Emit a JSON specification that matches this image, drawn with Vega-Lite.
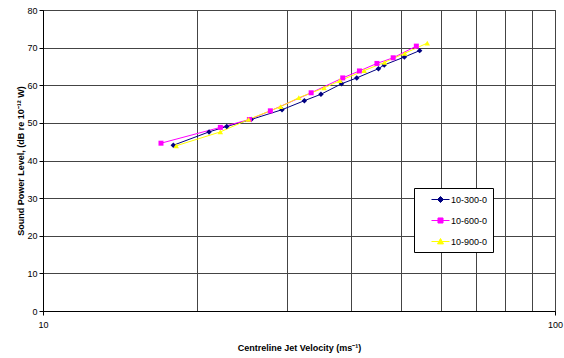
{
  "$schema": "https://vega.github.io/schema/vega-lite/v6.json",
  "width": 512,
  "height": 301,
  "autosize": {"type": "none"},
  "padding": {"left": 43, "top": 10, "right": 9, "bottom": 47},
  "background": "white",
  "config": {
    "font": "Liberation Sans",
    "view": {"stroke": "#444"},
    "axis": {
      "labelFont": "Liberation Sans",
      "labelFontSize": 9,
      "labelColor": "black",
      "titleFont": "Liberation Sans",
      "titleFontSize": 9,
      "titleFontWeight": "bold",
      "titleColor": "black",
      "gridColor": "#444",
      "gridOpacity": 1,
      "gridWidth": 1,
      "domainColor": "black",
      "tickColor": "black",
      "tickSize": 4
    }
  },
  "data": {
    "values": [
      {"series": "10-300-0", "v": 17.97, "L": 44.05},
      {"series": "10-300-0", "v": 21.1, "L": 47.6},
      {"series": "10-300-0", "v": 22.85, "L": 49.05},
      {"series": "10-300-0", "v": 25.5, "L": 50.9},
      {"series": "10-300-0", "v": 29.3, "L": 53.5},
      {"series": "10-300-0", "v": 32.4, "L": 55.9},
      {"series": "10-300-0", "v": 34.9, "L": 57.6},
      {"series": "10-300-0", "v": 38.3, "L": 60.4},
      {"series": "10-300-0", "v": 41.0, "L": 61.95},
      {"series": "10-300-0", "v": 45.2, "L": 64.4},
      {"series": "10-300-0", "v": 46.4, "L": 65.4},
      {"series": "10-300-0", "v": 50.8, "L": 67.5},
      {"series": "10-300-0", "v": 54.4, "L": 69.2},
      {"series": "10-600-0", "v": 17.0, "L": 44.6},
      {"series": "10-600-0", "v": 22.2, "L": 48.8},
      {"series": "10-600-0", "v": 25.3, "L": 50.9},
      {"series": "10-600-0", "v": 27.8, "L": 53.2},
      {"series": "10-600-0", "v": 33.4, "L": 58.0},
      {"series": "10-600-0", "v": 38.5, "L": 61.95},
      {"series": "10-600-0", "v": 41.5, "L": 63.8},
      {"series": "10-600-0", "v": 44.9, "L": 65.8},
      {"series": "10-600-0", "v": 48.3, "L": 67.3},
      {"series": "10-600-0", "v": 53.6, "L": 70.4},
      {"series": "10-900-0", "v": 18.2, "L": 43.9},
      {"series": "10-900-0", "v": 22.2, "L": 47.6},
      {"series": "10-900-0", "v": 25.2, "L": 50.9},
      {"series": "10-900-0", "v": 29.1, "L": 54.3},
      {"series": "10-900-0", "v": 31.6, "L": 56.7},
      {"series": "10-900-0", "v": 35.4, "L": 59.3},
      {"series": "10-900-0", "v": 38.0, "L": 61.2},
      {"series": "10-900-0", "v": 42.4, "L": 63.9},
      {"series": "10-900-0", "v": 46.5, "L": 66.1},
      {"series": "10-900-0", "v": 50.9, "L": 68.5},
      {"series": "10-900-0", "v": 56.3, "L": 71.2}
    ]
  },
  "encoding": {
    "x": {
      "field": "v",
      "type": "quantitative",
      "scale": {"type": "log", "domain": [10, 100], "nice": false},
      "axis": {
        "title": "Centreline Jet Velocity (ms⁻¹)",
        "values": [10, 20, 30, 40, 50, 60, 70, 80, 90, 100],
        "format": "d",
        "labelExpr": "datum.value == 10 || datum.value == 100 ? datum.label : ''",
        "tickOpacity": {"condition": {"test": "datum.value == 10 || datum.value == 100", "value": 1}, "value": 0},
        "labelPadding": 5,
        "labelFlush": false,
        "titleBaseline": "middle",
        "titleY": 36
      }
    },
    "y": {
      "field": "L",
      "type": "quantitative",
      "scale": {"domain": [0, 80], "nice": false},
      "axis": {
        "title": "Sound Power Level, (dB re 10⁻¹² W)",
        "values": [0, 10, 20, 30, 40, 50, 60, 70, 80],
        "labelPadding": 2,
        "titleX": -23,
        "titleBaseline": "middle"
      }
    }
  },
  "layer": [
    {
      "mark": {"type": "line", "strokeWidth": 1},
      "encoding": {
        "color": {
          "field": "series",
          "type": "nominal",
          "scale": {"domain": ["10-300-0", "10-600-0", "10-900-0"], "range": ["#000080", "#FF00FF", "#FFFF00"]},
          "legend": {
            "title": null,
            "orient": "none",
            "legendX": 371,
            "legendY": 178,
            "padding": 5,
            "fillColor": "white",
            "strokeColor": "black",
            "labelFont": "Liberation Sans",
            "labelFontSize": 9,
            "labelColor": "black",
            "labelOffset": 4,
            "symbolOffset": 15,
            "symbolSize": 144,
            "rowPadding": 9,
            "labelExpr": "datum.label + '\u00a0\u00a0\u00a0\u00a0\u00a0\u00a0'",
            "encode": {
              "symbols": {
                "update": {
                  "shape": {"signal": "datum.value === '10-300-0' ? 'M-1.5,0H1.5M-0.5,0L0,-0.5L0.5,0L0,0.5Z' : datum.value === '10-600-0' ? 'M-1.5,0H1.5M-0.42,-0.42H0.42V0.42H-0.42Z' : 'M-1.5,0H1.5M0,-0.5L0.5,0.4H-0.5Z'"},
                  "fill": {"signal": "scale('color', datum.value)"},
                  "stroke": {"signal": "scale('color', datum.value)"},
                  "strokeWidth": {"value": 1},
                  "opacity": {"value": 1}
                }
              }
            }
          }
        }
      }
    },
    {
      "transform": [{"filter": "datum.series === '10-300-0'"}],
      "mark": {"type": "point", "shape": "diamond", "filled": true, "opacity": 1, "size": 30, "color": "#000080"}
    },
    {
      "transform": [{"filter": "datum.series === '10-600-0'"}],
      "mark": {"type": "point", "shape": "square", "filled": true, "opacity": 1, "size": 25, "color": "#FF00FF"}
    },
    {
      "transform": [{"filter": "datum.series === '10-900-0'"}],
      "mark": {"type": "point", "shape": "triangle-up", "filled": true, "opacity": 1, "size": 30, "color": "#FFFF00"}
    }
  ]
}
